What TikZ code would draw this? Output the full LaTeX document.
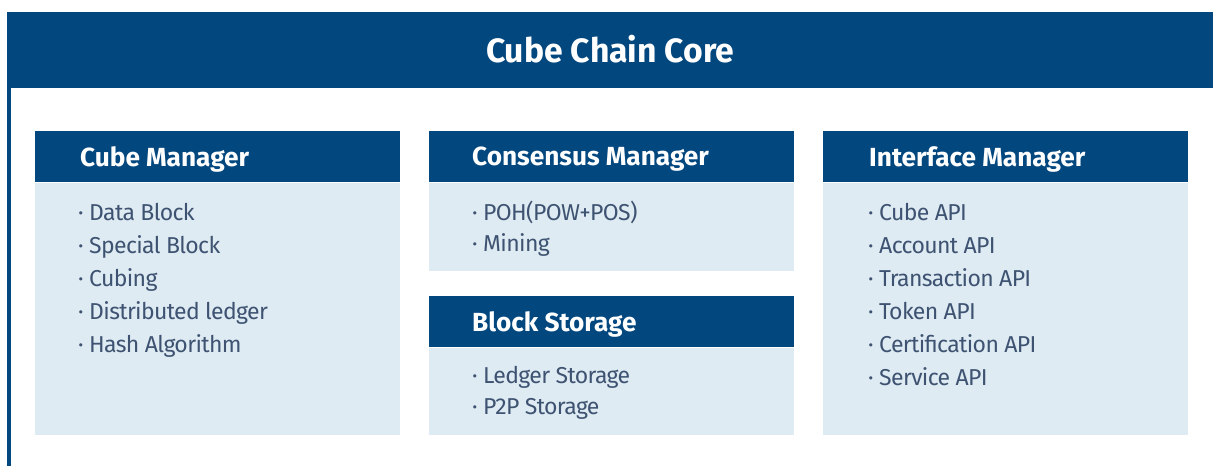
\documentclass[tikz,border=0pt]{standalone}
\usepackage{fontspec}
\setmainfont{Fira Sans}
\newfontfamily\itemfont[LetterSpace=-2.8]{Fira Sans}
\definecolor{coreblue}{HTML}{03477F}
\definecolor{paleblue}{HTML}{DFEBF3}
\definecolor{itemgray}{HTML}{3E5371}
\tikzset{
  headbar/.style={fill=coreblue, anchor=north west, inner sep=0pt, minimum width=365pt, minimum height=51pt},
  bodybox/.style={fill=paleblue, anchor=north west, inner sep=0pt, minimum width=365pt},
  headtext/.style={text=white, font=\fontsize{26.2}{30}\selectfont\bfseries, anchor=west, inner sep=0pt, yshift=-2.5pt},
  itemtext/.style={text=itemgray, font=\itemfont\fontsize{23}{33}\selectfont, anchor=base west, inner sep=0pt}
}
\begin{document}
\begin{tikzpicture}[x=1pt,y=1pt]
  \useasboundingbox (0,0) rectangle (1213,466);

  % outer frame
  \fill[coreblue] (7,0) rectangle (11,378);
  \node[fill=coreblue, anchor=north west, inner sep=0pt, minimum width=1206pt, minimum height=76pt] (core) at (7,454) {};
  \node[text=white, font=\fontsize{33.7}{40}\selectfont\bfseries, yshift=1.5pt] (coretitle) at (core.center) {Cube Chain Core};

  % cube manager
  \node[headbar] (cubehead) at (35,335) {};
  \node[bodybox, minimum height=252pt] (cubebody) at (cubehead.south west) {};
  \node[headtext] (cubetitle) at ([xshift=45pt]cubehead.west) {Cube Manager};
  \foreach \t [count=\i] in {Data Block, Special Block, Cubing, Distributed ledger, Hash Algorithm}
    \node[itemtext] (cube-\i) at ([xshift=43pt, yshift={-38pt-33pt*(\i-1)}]cubehead.south west) {·\kern5.5pt\t};

  % consensus manager
  \node[headbar] (conshead) at (429,335) {};
  \node[bodybox, minimum height=88pt] (consbody) at (conshead.south west) {};
  \node[headtext] (constitle) at ([xshift=43pt]conshead.west) {Consensus Manager};
  \foreach \t [count=\i] in {POH(POW+POS), Mining}
    \node[itemtext] (cons-\i) at ([xshift=43pt, yshift={-38pt-31pt*(\i-1)}]conshead.south west) {·\kern5.5pt\t};

  % block storage
  \node[headbar] (storehead) at (429,170) {};
  \node[bodybox, minimum height=87pt] (storebody) at (storehead.south west) {};
  \node[headtext] (storetitle) at ([xshift=43pt]storehead.west) {Block Storage};
  \foreach \t [count=\i] in {Ledger Storage, P2P Storage}
    \node[itemtext] (store-\i) at ([xshift=43pt, yshift={-36pt-31pt*(\i-1)}]storehead.south west) {·\kern5.5pt\t};

  % interface manager
  \node[headbar] (ifhead) at (823,335) {};
  \node[bodybox, minimum height=252pt] (ifbody) at (ifhead.south west) {};
  \node[headtext] (iftitle) at ([xshift=46pt]ifhead.west) {Interface Manager};
  \foreach \t [count=\i] in {Cube API, Account API, Transaction API, Token API, Certification API, Service API}
    \node[itemtext] (if-\i) at ([xshift=45pt, yshift={-38pt-33pt*(\i-1)}]ifhead.south west) {·\kern5.5pt\t};
\end{tikzpicture}
\end{document}
